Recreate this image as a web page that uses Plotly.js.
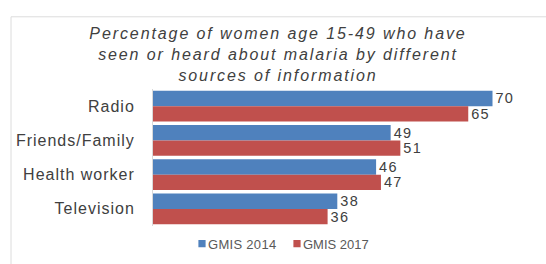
<!DOCTYPE html>
<html>
<head>
<meta charset="utf-8">
<script src="https://cdn.plot.ly/plotly-3.0.1.min.js"></script>
<style>
html,body{margin:0;padding:0;background:#fff;}
#chart{width:546px;height:264px;}
#chart .gtitle{letter-spacing:1.9px;}
#chart .ytick text{letter-spacing:1px;}
text.bartext{letter-spacing:1.4px;}
#chart .legendtext{letter-spacing:0.3px;}
#chart path.legendbar, #chart path.legendundefined{transform:translate(34px,0) scale(0.6);}
</style>
</head>
<body>
<div id="chart"></div>
<script>
var categories = ["Radio", "Friends/Family", "Health worker", "Television"];
var series2014 = [70, 49, 46, 38];
var series2017 = [65, 51, 47, 36];
var seriesNames = ["GMIS 2014", "GMIS 2017"];
var titleText = "Percentage of women age 15-49 who have<br>seen or heard about malaria by different<br>sources of information";

var W = 546, H = 264;
var L = 153, R = 5, T = 89, B = 27;
var pw = W - L - R, ph = H - T - B;
function px(x){ return (x - L) / pw; }
function py(y){ return (H - B - y) / ph; }

var FONT = "Liberation Sans, Arial, sans-serif";
var textFont = {family: FONT, size: 16, color: "#404040"};

var traces = [
  {type: "bar", orientation: "h", name: seriesNames[0], y: categories, x: series2014,
   marker: {color: "#4F81BD"}, text: series2014.map(String), textposition: "outside",
   textfont: textFont, cliponaxis: false, hoverinfo: "none", legend: "legend"},
  {type: "bar", orientation: "h", name: seriesNames[1], y: categories, x: series2017,
   marker: {color: "#C0504D"}, text: series2017.map(String), textposition: "outside",
   textfont: textFont, cliponaxis: false, hoverinfo: "none", legend: "legend2"}
];

var legendBase = {orientation: "h", xanchor: "left", yanchor: "middle", y: py(256),
  font: {family: FONT, size: 13, color: "#595959"}, itemwidth: 30, bgcolor: "rgba(0,0,0,0)", borderwidth: 0};

var layout = {
  width: W, height: H,
  margin: {l: L, r: R, t: T, b: B, pad: 0},
  paper_bgcolor: "#fff", plot_bgcolor: "#fff",
  barmode: "group", bargap: 0.1, bargroupgap: 0,
  font: {family: FONT, color: "#404040"},
  title: {text: titleText, x: 278 / W, xanchor: "center", xref: "container",
          y: 1 - 39 / H, yanchor: "top", yref: "container",
          font: {family: FONT, size: 16, color: "#404040", style: "italic"}},
  xaxis: {range: [0, 80], visible: false, showgrid: false, zeroline: false, fixedrange: true},
  yaxis: {type: "category", autorange: "reversed", showline: true, linecolor: "#d9d9d9", linewidth: 1,
          ticks: "", showgrid: false, zeroline: false, ticklabelstandoff: 14,
          tickfont: {family: FONT, size: 16, color: "#404040"}},
  legend: Object.assign({}, legendBase, {x: px(168)}),
  legend2: Object.assign({}, legendBase, {x: px(263)}),
  showlegend: true,
  shapes: [
    {type: "rect", xref: "paper", yref: "paper", x0: px(11), x1: px(560), y0: py(280), y1: py(11),
     line: {color: "#dcdcdc", width: 1}, fillcolor: "rgba(0,0,0,0)", layer: "below"}
  ]
};

Plotly.newPlot("chart", traces, layout, {displayModeBar: false, staticPlot: true});
</script>
</body>
</html>
